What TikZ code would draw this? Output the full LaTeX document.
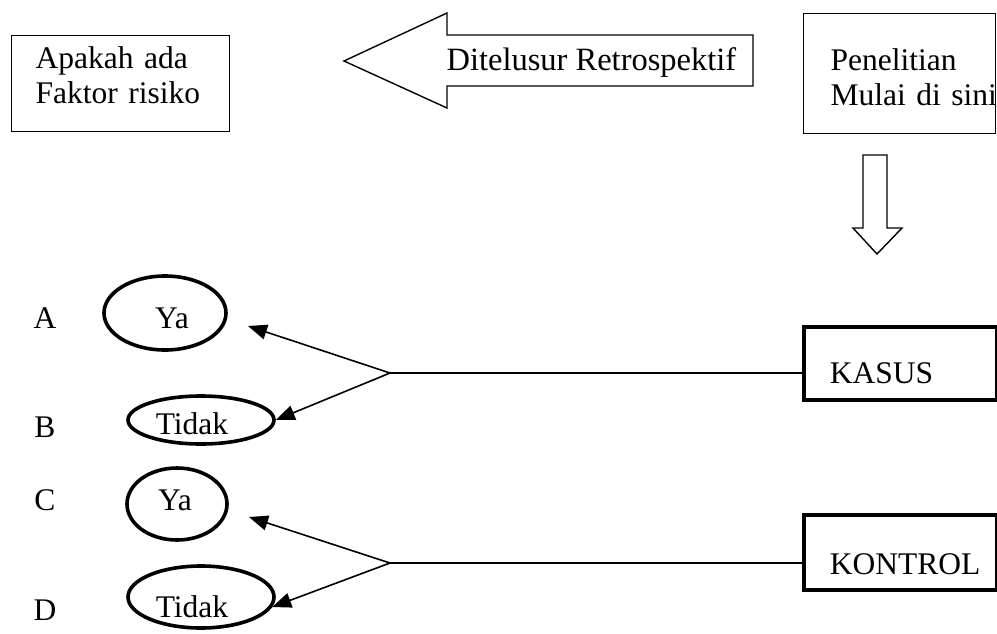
\documentclass[tikz,border=0pt]{standalone}
\usepackage{fontspec}
\setmainfont{Liberation Serif}
\usetikzlibrary{arrows.meta,shapes.geometric}
\begin{document}
\begin{tikzpicture}[x=1pt,y=-1pt,
  font=\fontsize{31.5}{35}\selectfont,
  thinbox/.style={draw, line width=1.4pt, inner sep=0pt, align=left, anchor=north west},
  thickbox/.style={draw, line width=3.6pt, inner sep=0pt, align=left, anchor=north west},
  oval/.style={draw, ellipse, line width=3.6pt, inner sep=0pt},
  conn/.style={line width=1.6pt, -{Triangle[length=19pt,width=15pt]}},
  plain/.style={line width=1.6pt},
  bigarrow/.style={draw, line width=1.4pt, line join=miter},
  letter/.style={anchor=base}]
\useasboundingbox (0,0) rectangle (997,633);

% top boxes
\node[thinbox, text width=218pt, text height=33pt, text depth=63pt] (faktor) at (11,35)
  {\hspace*{24pt}\mbox{Apakah ada}\\\hspace*{24pt}\mbox{Faktor risiko}};
\node[thinbox, text width=192pt, text height=57pt, text depth=63pt] (mulai) at (803,13)
  {\hspace*{27pt}\mbox{Penelitian}\\\hspace*{27pt}\mbox{Mulai di sini}};

% big hollow arrow to the left
\draw[bigarrow] (344,61) -- (447,13) -- (447,35) -- (753,35) -- (753,86) -- (447,86) -- (447,108) -- cycle;
\node[anchor=base west, font=\fontsize{32.5}{35}\selectfont] (ditel) at (443,70) {Ditelusur Retrospektif};

% hollow arrow down
\draw[bigarrow] (863,155) -- (887,155) -- (887,228) -- (902,228) -- (877,254) -- (853,228) -- (863,228) -- cycle;

% group boxes
\node[thickbox, text width=193pt, text height=57pt, text depth=16pt] (kasus) at (802,325)
  {\hspace*{26pt}KASUS};
\node[thickbox, text width=193pt, text height=60pt, text depth=15pt] (kontrol) at (802,513)
  {\hspace*{26pt}KONTROL};

% letters
\node[letter] (lA) at (45,328) {A};
\node[letter] (lB) at (45,437) {B};
\node[letter] (lC) at (45,510) {C};
\node[letter] (lD) at (45,620) {D};

% ellipses
\node[oval, minimum width=122pt, minimum height=74pt,
  label={[xshift=7pt, yshift=-5pt]center:Ya}] (yaA) at (165,313) {};
\node[oval, minimum width=146pt, minimum height=48pt,
  label={[xshift=-9pt, yshift=-4pt]center:Tidak}] (tidB) at (201,420) {};
\node[oval, minimum width=100pt, minimum height=72pt,
  label={[xshift=-2pt, yshift=4pt]center:Ya}] (yaC) at (177,504) {};
\node[oval, minimum width=146pt, minimum height=62pt,
  label={[xshift=-9pt, yshift=-10pt]center:Tidak}] (tidD) at (201,597) {};

% connectors
\coordinate (j1) at (390,373);
\coordinate (tA) at (248,326);
\coordinate (j2) at (390,563);
\coordinate (tC) at (249,517);
\draw[plain] (j1) -- (j1 -| kasus.west);
\draw[conn] (j1) -- (tA);
\draw[conn] (j1) -- (tidB.east);
\draw[plain] (j2) -- (j2 -| kontrol.west);
\draw[conn] (j2) -- (tC);
\draw[conn] (j2) -- (tidD.-8);
\end{tikzpicture}
\end{document}
